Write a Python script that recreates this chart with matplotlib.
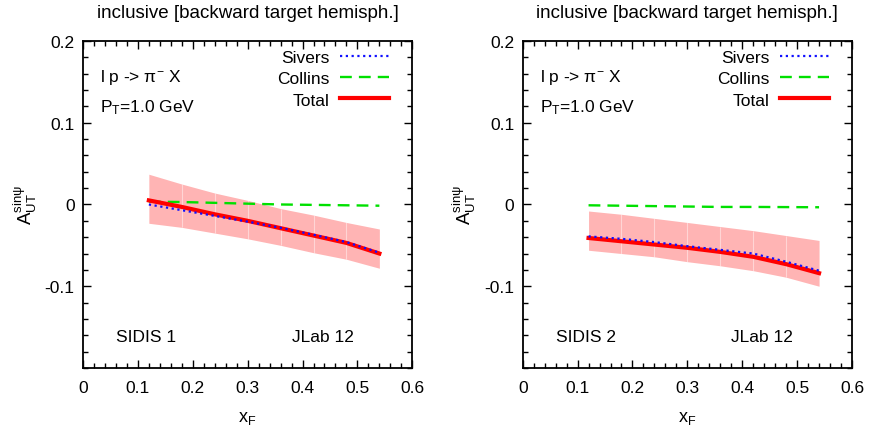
"""Backward-hemisphere inclusive A_UT^{sin psi} for SIDIS 1 / SIDIS 2 at JLab 12."""

import matplotlib
matplotlib.use("Agg")
import matplotlib.pyplot as plt
from matplotlib.ticker import MultipleLocator, FixedLocator

plt.rcParams["font.family"] = ["Liberation Sans", "DejaVu Sans"]
plt.rcParams["mathtext.fontset"] = "custom"
plt.rcParams["mathtext.rm"] = "Liberation Sans"
plt.rcParams["mathtext.it"] = "Liberation Sans:italic"

# x_F grid shared by both panels
xf = [0.12, 0.18, 0.24, 0.30, 0.36, 0.42, 0.48, 0.54]

# SIDIS 1
sivers_1 = [0.000, -0.007, -0.014, -0.021, -0.0285, -0.037, -0.046, -0.059]
collins_1 = [0.0035, 0.003, 0.002, 0.001, 0.000, -0.0005, -0.001, -0.0015]
total_1 = [0.005, -0.003, -0.012, -0.020, -0.029, -0.038, -0.047, -0.060]
band_hi_1 = [0.037, 0.025, 0.014, 0.005, -0.005, -0.013, -0.022, -0.030]
band_lo_1 = [-0.023, -0.028, -0.035, -0.042, -0.050, -0.059, -0.067, -0.078]

# SIDIS 2
sivers_2 = [-0.039, -0.042, -0.046, -0.051, -0.0555, -0.060, -0.070, -0.081]
collins_2 = [-0.001, -0.0015, -0.002, -0.0025, -0.003, -0.003, -0.0032, -0.0034]
total_2 = [-0.041, -0.045, -0.049, -0.053, -0.058, -0.064, -0.073, -0.084]
band_hi_2 = [-0.008, -0.012, -0.017, -0.022, -0.027, -0.032, -0.038, -0.044]
band_lo_2 = [-0.056, -0.060, -0.064, -0.070, -0.075, -0.081, -0.089, -0.100]

panels = [
    ("SIDIS 1", sivers_1, collins_1, total_1, band_hi_1, band_lo_1),
    ("SIDIS 2", sivers_2, collins_2, total_2, band_hi_2, band_lo_2),
]

x_ticks = [0, 0.1, 0.2, 0.3, 0.4, 0.5, 0.6]
y_ticks = [-0.1, 0, 0.1, 0.2]
y_ticklabels = ["-0.1", "0", "0.1", "0.2"]

fs = 12.5
fig = plt.figure(figsize=(8.7, 4.31), dpi=100)
lefts = [0.0954, 0.6008]

for left, (name, sivers, collins, total, hi, lo) in zip(lefts, panels):
    ax = fig.add_axes([left, 0.1439, 0.3785, 0.7587])
    ax.fill_between(xf, lo, hi, color="#ffb4b4", lw=0, zorder=1)
    ax.vlines(xf[1:-1], lo[1:-1], hi[1:-1], color="white", lw=0.8, alpha=0.45, zorder=1.5)
    ax.plot(xf, sivers, color="#1010ff", lw=1.6, dashes=(1, 1.6), label="Sivers", zorder=3)
    ax.plot(xf, collins, color="#00e000", lw=1.7, dashes=(5, 3), label="Collins", zorder=2)
    ax.plot(xf, total, color="#ff0000", lw=3.0, label="Total", zorder=2.5)

    ax.set_xlim(0, 0.6)
    ax.set_ylim(-0.2, 0.2)
    ax.xaxis.set_major_locator(FixedLocator(x_ticks))
    ax.set_xticklabels([f"{t:g}" for t in x_ticks])
    ax.xaxis.set_minor_locator(MultipleLocator(0.02))
    ax.yaxis.set_major_locator(FixedLocator(y_ticks))
    ax.set_yticklabels(y_ticklabels)
    ax.yaxis.set_minor_locator(MultipleLocator(0.02))
    ax.tick_params(which="both", direction="in", top=True, right=True, width=1.0,
                   labelsize=fs)
    ax.tick_params(which="major", length=6)
    ax.tick_params(which="minor", length=3.5)
    ax.tick_params(axis="x", which="major", pad=9)
    ax.tick_params(axis="y", which="major", pad=6)
    for sp in ax.spines.values():
        sp.set_linewidth(1.3)

    ax.set_title("inclusive [backward target hemisph.]", fontsize=13.5, pad=17)
    ax.set_xlabel(r"x$_\mathrm{F}$", fontsize=13)
    ax.xaxis.set_label_coords(0.5, -0.125)
    ax.set_ylabel(r"$\mathrm{A}_{\mathrm{UT}}^{\mathrm{sinψ}}$", fontsize=13.5)
    ax.yaxis.set_label_coords(-0.135, 0.5)

    ax.text(0.031, 0.157, r"l p -> $\mathrm{π}^{\mathrm{-}}$ X", fontsize=fs, va="center")
    ax.text(0.031, 0.12, r"P$_\mathrm{T}$=1.0 GeV", fontsize=fs, va="center")
    ax.text(0.06, -0.162, name, fontsize=fs, va="center")
    ax.text(0.38, -0.162, "JLab 12", fontsize=fs, va="center")

    ax.legend(loc="upper right", bbox_to_anchor=(0.95, 0.995), borderaxespad=0,
              frameon=False, markerfirst=False, fontsize=fs,
              handlelength=2.8, handletextpad=0.6, labelspacing=0.36)

fig.savefig("out.png", dpi=100)
